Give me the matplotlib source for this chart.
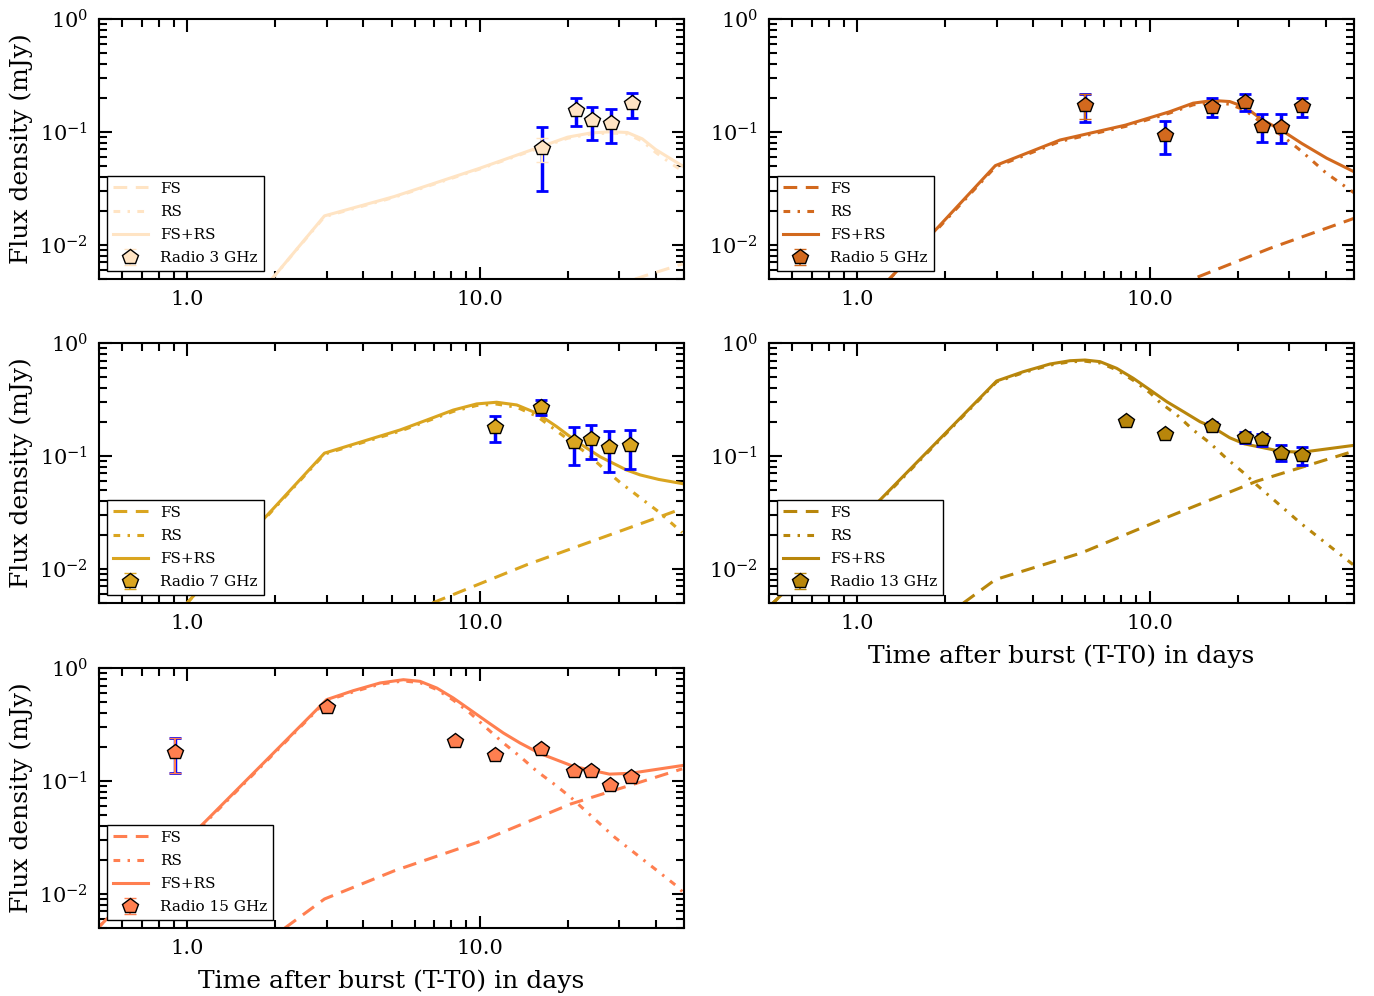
import matplotlib
matplotlib.use("Agg")
import numpy as np
import matplotlib.pyplot as plt
from matplotlib.ticker import FixedLocator, FormatStrFormatter, LogLocator, NullFormatter

plt.rcParams['font.family'] = ['DejaVu Serif']
plt.rcParams['mathtext.fontset'] = 'dejavuserif'

# ---- 3 GHz ----
fs3_t = [34.0, 39.0, 46.0, 49.5]
fs3_f = [0.005, 0.0056, 0.0064, 0.0068]
rs3_t = [1.95, 2.95, 5.1, 10.0, 16.2, 20.0, 24.0, 28.0, 32.0, 36.0, 40.0, 45.0, 49.5]
rs3_f = [0.005, 0.0178, 0.0264, 0.0470, 0.0730, 0.088, 0.096, 0.098, 0.096, 0.083, 0.066, 0.053, 0.045]
tot3_t = [1.95, 2.95, 5.1, 10.0, 16.2, 20.0, 24.0, 28.0, 32.0, 36.0, 40.0, 45.0, 49.5]
tot3_f = [0.005, 0.0181, 0.0268, 0.0477, 0.0742, 0.090, 0.098, 0.1005, 0.099, 0.087, 0.070, 0.058, 0.050]
obs3_t = [16.3, 21.3, 24.3, 28.2, 33.3]
obs3_f = [0.0718, 0.157, 0.127, 0.121, 0.180]
obs3_lo = [0.0545, 0.148, 0.119, 0.113, 0.168]
obs3_hi = [0.088, 0.167, 0.135, 0.129, 0.190]
sys3_lo = [0.030, 0.114, 0.0856, 0.080, 0.133]
sys3_hi = [0.111, 0.199, 0.167, 0.160, 0.223]

# ---- 5 GHz ----
fs5_t = [14.6, 25.8, 50.0]
fs5_f = [0.0052, 0.00934, 0.0172]
rs5_t = [1.29, 1.79, 2.97, 4.94, 8.27, 11.7, 14.1, 16.5, 18.8, 21.3, 24.3, 28.2, 33.2, 40.3, 50.0]
rs5_f = [0.005, 0.0120, 0.0490, 0.0825, 0.112, 0.147, 0.174, 0.183, 0.176, 0.155, 0.119, 0.094, 0.067, 0.043, 0.029]
tot5_t = [1.29, 1.79, 2.97, 4.94, 8.27, 11.7, 14.1, 16.5, 18.8, 21.3, 24.3, 28.2, 33.2, 40.3, 50.0]
tot5_f = [0.005, 0.0123, 0.0504, 0.0849, 0.115, 0.151, 0.180, 0.190, 0.186, 0.165, 0.128, 0.104, 0.079, 0.0587, 0.0445]
obs5_t = [6.0, 11.3, 16.3, 21.2, 24.3, 28.2, 33.2]
obs5_f = [0.172, 0.094, 0.166, 0.186, 0.113, 0.110, 0.170]
obs5_lo = [0.130, 0.088, 0.156, 0.175, 0.106, 0.103, 0.160]
obs5_hi = [0.217, 0.100, 0.176, 0.197, 0.120, 0.117, 0.180]
sys5_lo = [0.122, 0.064, 0.135, 0.153, 0.082, 0.080, 0.137]
sys5_hi = [0.217, 0.125, 0.199, 0.217, 0.143, 0.143, 0.201]

# ---- 7 GHz ----
fs7_t = [6.9, 14.5, 29.0, 49.3]
fs7_f = [0.005, 0.0109, 0.0208, 0.0342]
rs7_t = [1.0, 1.75, 2.95, 5.35, 6.6, 8.13, 9.78, 11.44, 13.4, 15.7, 18.8, 23.2, 26.5, 30.2, 41.0, 49.3]
rs7_f = [0.005, 0.024, 0.104, 0.166, 0.203, 0.248, 0.280, 0.288, 0.270, 0.225, 0.159, 0.106, 0.0778, 0.0585, 0.032, 0.021]
tot7_t = [1.0, 1.75, 2.95, 5.35, 6.6, 8.13, 9.78, 11.44, 13.4, 15.7, 18.35, 21.5, 25.8, 31.8, 35.4, 41.0, 49.3]
tot7_f = [0.005, 0.0245, 0.106, 0.170, 0.208, 0.255, 0.289, 0.299, 0.283, 0.239, 0.182, 0.134, 0.0986, 0.0752, 0.068, 0.062, 0.057]
obs7_t = [11.3, 16.2, 21.0, 24.0, 27.8, 32.8]
obs7_f = [0.181, 0.271, 0.132, 0.142, 0.119, 0.124]
obs7_lo = [0.172, 0.258, 0.125, 0.135, 0.113, 0.118]
obs7_hi = [0.190, 0.285, 0.139, 0.149, 0.125, 0.130]
sys7_lo = [0.133, 0.232, 0.0838, 0.0947, 0.0722, 0.0773]
sys7_hi = [0.224, 0.315, 0.179, 0.187, 0.165, 0.170]

# ---- 13 GHz ----
fs13_t = [2.31, 2.97, 5.86, 11.68, 23.2, 49.7]
fs13_f = [0.005, 0.00805, 0.0139, 0.0292, 0.0597, 0.110]
rs13_t = [0.516, 1.2, 3.0, 3.7, 4.57, 5.35, 6.02, 6.77, 7.72, 8.8, 10.04, 10.9, 12.4, 14.1,
          16.1, 18.3, 21.0, 23.2, 32.8, 49.7]
rs13_f = [0.005, 0.040, 0.453, 0.546, 0.638, 0.682, 0.690, 0.666, 0.578, 0.467, 0.362, 0.295,
          0.231, 0.170, 0.130, 0.0954, 0.0708, 0.0557, 0.0255, 0.0109]
tot13_t = [0.516, 1.2, 3.0, 3.7, 4.57, 5.35, 6.02, 6.77, 7.72, 8.8, 10.04, 11.44, 13.05, 14.88,
           16.3, 18.8, 21.1, 28.1, 33.2, 49.7]
tot13_f = [0.005, 0.041, 0.461, 0.557, 0.652, 0.697, 0.707, 0.684, 0.597, 0.487, 0.384, 0.303,
           0.247, 0.201, 0.182, 0.145, 0.128, 0.110, 0.108, 0.124]
obs13_t = [8.3, 11.3, 16.3, 21.2, 24.3, 28.1, 33.2]
obs13_f = [0.204, 0.157, 0.183, 0.146, 0.142, 0.106, 0.102]
obs13_lo = [0.197, 0.150, 0.174, 0.138, 0.134, 0.099, 0.094]
obs13_hi = [0.211, 0.164, 0.192, 0.154, 0.150, 0.113, 0.110]
sys13_lo = [0.195, 0.146, 0.167, 0.129, 0.122, 0.091, 0.0838]
sys13_hi = [0.214, 0.168, 0.199, 0.163, 0.158, 0.124, 0.119]

# ---- 15 GHz ----
fs15_t = [2.16, 2.95, 5.13, 10.2, 20.5, 49.3]
fs15_f = [0.005, 0.00903, 0.0161, 0.0296, 0.0626, 0.128]
rs15_t = [0.495, 1.157, 3.0, 3.7, 4.57, 5.49, 6.26, 7.14, 8.13, 9.27, 10.57, 12.06, 13.75,
          15.7, 18.1, 20.5, 29.0, 47.8, 49.3]
rs15_f = [0.005, 0.043, 0.515, 0.615, 0.720, 0.768, 0.742, 0.645, 0.520, 0.40, 0.294, 0.217,
          0.165, 0.122, 0.0928, 0.0717, 0.0317, 0.01146, 0.0105]
tot15_t = [0.495, 1.157, 3.0, 3.7, 4.57, 5.49, 6.26, 7.14, 8.13, 9.27, 10.57, 12.06, 13.75,
           16.1, 20.9, 27.8, 32.8, 49.3]
tot15_f = [0.005, 0.044, 0.525, 0.630, 0.737, 0.788, 0.762, 0.665, 0.543, 0.428, 0.337, 0.266,
           0.217, 0.175, 0.135, 0.115, 0.117, 0.137]
obs15_t = [0.91, 3.0, 8.25, 11.3, 16.2, 21.1, 24.1, 27.9, 32.9]
obs15_f = [0.179, 0.455, 0.224, 0.170, 0.192, 0.122, 0.122, 0.0916, 0.108]
obs15_lo = [0.1186, 0.440, 0.217, 0.164, 0.185, 0.117, 0.117, 0.087, 0.103]
obs15_hi = [0.239, 0.470, 0.231, 0.176, 0.199, 0.127, 0.127, 0.096, 0.113]
sys15_lo = [0.1186, 0.430, 0.212, 0.160, 0.181, 0.114, 0.114, 0.085, 0.100]
sys15_hi = [0.239, 0.480, 0.236, 0.180, 0.203, 0.130, 0.130, 0.098, 0.116]

panels = [
    ("Radio 3 GHz", "bisque", fs3_t, fs3_f, rs3_t, rs3_f, tot3_t, tot3_f,
     obs3_t, obs3_f, obs3_lo, obs3_hi, sys3_lo, sys3_hi),
    ("Radio 5 GHz", "chocolate", fs5_t, fs5_f, rs5_t, rs5_f, tot5_t, tot5_f,
     obs5_t, obs5_f, obs5_lo, obs5_hi, sys5_lo, sys5_hi),
    ("Radio 7 GHz", "goldenrod", fs7_t, fs7_f, rs7_t, rs7_f, tot7_t, tot7_f,
     obs7_t, obs7_f, obs7_lo, obs7_hi, sys7_lo, sys7_hi),
    ("Radio 13 GHz", "darkgoldenrod", fs13_t, fs13_f, rs13_t, rs13_f, tot13_t, tot13_f,
     obs13_t, obs13_f, obs13_lo, obs13_hi, sys13_lo, sys13_hi),
    ("Radio 15 GHz", "coral", fs15_t, fs15_f, rs15_t, rs15_f, tot15_t, tot15_f,
     obs15_t, obs15_f, obs15_lo, obs15_hi, sys15_lo, sys15_hi),
]

fig = plt.figure(figsize=(13.74, 9.96), dpi=100)
W, H = 1374.0, 996.0
lefts = [99, 769, 99, 769, 99]
bottoms = [279, 279, 603, 603, 928]
aw, ah = 585, 260

for i, p in enumerate(panels):
    (name, col, fst, fsf, rst, rsf, tt, tf, ot, of, olo, ohi, slo, shi) = p
    ax = fig.add_axes([lefts[i] / W, (H - bottoms[i]) / H, aw / W, ah / H])
    ax.set_xscale('log')
    ax.set_yscale('log')
    ax.plot(fst, fsf, color=col, lw=2.2, dashes=(4.5, 2.8), label='FS')
    ax.plot(rst, rsf, color=col, lw=2.2, dashes=(2.2, 2.4, 0.8, 2.4), label='RS')
    ax.plot(tt, tf, color=col, lw=2.2, label='FS+RS')
    of = np.array(of)
    ax.errorbar(ot, of, yerr=[of - np.array(slo), np.array(shi) - of], fmt='none',
                ecolor='blue', elinewidth=2.5, capsize=4, capthick=2, zorder=3)
    ax.errorbar(ot, of, yerr=[of - np.array(olo), np.array(ohi) - of], fmt='p',
                color=col, mfc=col, mec='black', mew=1, ms=11.5, ecolor=col,
                elinewidth=1.5, capsize=4, capthick=1.5, label=name, zorder=4)
    ax.set_xlim(0.5, 50)
    ax.set_ylim(0.005, 1)
    ax.xaxis.set_major_locator(FixedLocator([1, 10]))
    ax.xaxis.set_major_formatter(FormatStrFormatter('%.1f'))
    ax.xaxis.set_minor_locator(LogLocator(base=10, subs=np.arange(2, 10)))
    ax.xaxis.set_minor_formatter(NullFormatter())
    ax.yaxis.set_minor_locator(LogLocator(base=10, subs=np.arange(2, 10)))
    ax.yaxis.set_minor_formatter(NullFormatter())
    ax.tick_params(which='both', direction='in', top=True, right=True, width=1.5)
    ax.tick_params(which='major', length=9, labelsize=15, pad=8)
    ax.tick_params(which='minor', length=6)
    for s in ax.spines.values():
        s.set_linewidth(1.5)
    if i % 2 == 0:
        ax.set_ylabel('Flux density (mJy)', fontsize=18)
    if i in (3, 4):
        ax.set_xlabel('Time after burst (T-T0) in days', fontsize=18, labelpad=8)
    leg = ax.legend(loc='lower left', fontsize=11, fancybox=False, framealpha=1,
                    edgecolor='black', handlelength=2.3, labelspacing=0.6,
                    borderaxespad=0.5, numpoints=1)
    leg.get_frame().set_linewidth(1.0)

fig.savefig('out.png', dpi=100)
